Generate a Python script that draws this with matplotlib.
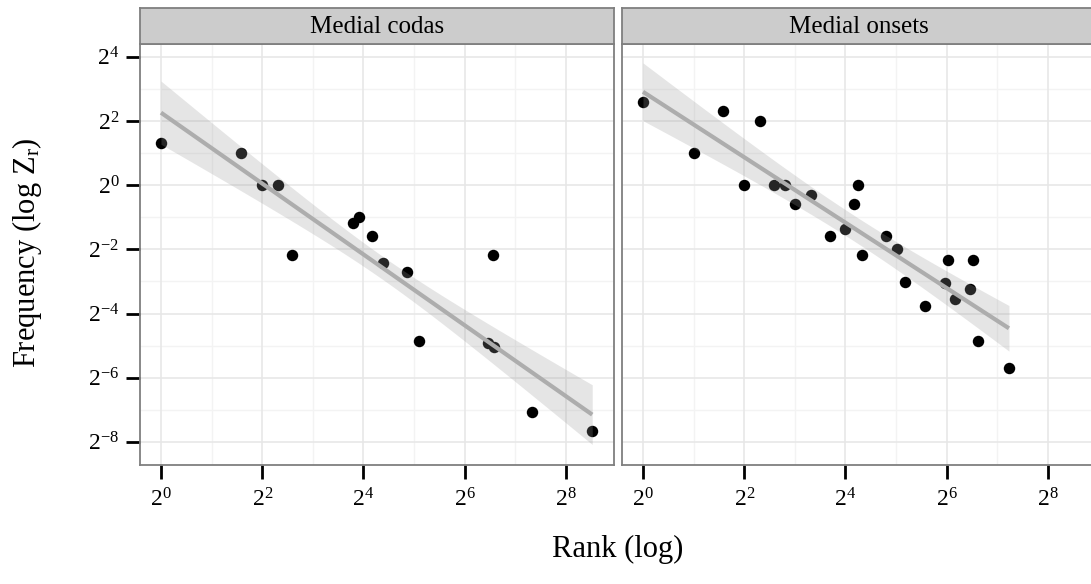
import numpy as np
import matplotlib
matplotlib.use('Agg')
import matplotlib.pyplot as plt

# ---- data (log2 of rank, log2 of frequency) ----
panel_titles = ['Medial codas', 'Medial onsets']

codas_rank_log2 = [0.0, 1.585, 2.0, 2.32, 2.585, 3.80, 3.92, 4.17, 4.39, 4.86,
                   5.09, 6.56, 6.46, 6.57, 7.33, 8.52]
codas_freq_log2 = [1.32, 1.0, 0.0, 0.0, -2.17, -1.17, -1.0, -1.59, -2.44, -2.70,
                   -4.86, -2.17, -4.92, -5.04, -7.06, -7.66]

onsets_rank_log2 = [0.0, 1.0, 1.585, 2.0, 2.32, 2.585, 2.81, 3.0, 3.32, 3.70,
                    3.99, 4.17, 4.25, 4.32, 4.81, 5.01, 5.17, 5.58, 6.02, 5.97,
                    6.17, 6.52, 6.46, 6.62, 7.23]
onsets_freq_log2 = [2.58, 1.0, 2.32, 0.0, 2.0, 0.0, 0.0, -0.58, -0.31, -1.59,
                    -1.35, -0.58, 0.0, -2.18, -1.59, -2.0, -3.01, -3.76, -2.33, -3.06,
                    -3.55, -2.33, -3.24, -4.86, -5.70]

# linear-fit summary: fitted value at the ends of the
# rank range, and the half-width of the 95% band (start, narrowest, end)
codas_fit_y = [2.26, -7.15]
codas_band_hw = [0.985, 0.36, 0.93]
onsets_fit_y = [2.91, -4.46]
onsets_band_hw = [0.90, 0.40, 0.71]

x_ticks = [0, 2, 4, 6, 8]
y_ticks = [-8, -6, -4, -2, 0, 2, 4]
x_minor = [1, 3, 5, 7]
y_minor = [-7, -5, -3, -1, 1, 3]

plt.rcParams['font.family'] = ['Liberation Serif', 'DejaVu Serif']
plt.rcParams['mathtext.fontset'] = 'custom'
plt.rcParams['mathtext.rm'] = 'Liberation Serif'
plt.rcParams['mathtext.it'] = 'Liberation Serif:italic'
plt.rcParams['mathtext.bf'] = 'Liberation Serif:bold'


def smooth_band(xs, fit_y, band_hw, n_grid=100):
    xs = np.asarray(xs)
    x0, x1 = xs.min(), xs.max()
    xc = xs.mean()
    xg = np.linspace(x0, x1, n_grid)
    yg = np.interp(xg, [x0, x1], fit_y)
    h0, hmin, h1 = band_hw
    k0 = (h0**2 - hmin**2) / (x0 - xc)**2
    k1 = (h1**2 - hmin**2) / (x1 - xc)**2
    k = np.where(xg < xc, k0, k1)
    hw = np.sqrt(hmin**2 + k*(xg - xc)**2)
    return xg, yg, yg - hw, yg + hw


W, H = 1091, 584
fig = plt.figure(figsize=(W/100, H/100), dpi=100)

ax_left_px = [140, 622]
ax_w_px = 474
ax_top_px, ax_bot_px = 44, 465
strip_top_px = 8

data = [(codas_rank_log2, codas_freq_log2, codas_fit_y, codas_band_hw),
        (onsets_rank_log2, onsets_freq_log2, onsets_fit_y, onsets_band_hw)]
border = '#7F7F7F'

for i, (xs, ys, fy, bhw) in enumerate(data):
    left = ax_left_px[i]/W
    bottom = 1 - ax_bot_px/H
    ax = fig.add_axes([left, bottom, ax_w_px/W, (ax_bot_px - ax_top_px)/H])
    ax.set_xlim(-0.415, 8.95)
    ax.set_ylim(-8.72, 4.40)
    for v in x_minor:
        ax.axvline(v, color='#F3F3F3', lw=1.0, zorder=0)
    for v in y_minor:
        ax.axhline(v, color='#F3F3F3', lw=1.0, zorder=0)
    for v in x_ticks:
        ax.axvline(v, color='#E6E6E6', lw=1.1, zorder=0)
    for v in y_ticks:
        ax.axhline(v, color='#E6E6E6', lw=1.1, zorder=0)

    ax.scatter(xs, ys, s=68, color='black', zorder=1, linewidths=0)
    xg, yg, lo, hi = smooth_band(xs, fy, bhw)
    ax.fill_between(xg, lo, hi, color='#999999', alpha=0.25, lw=0, zorder=2)
    ax.plot(xg, yg, color='#ADADAD', lw=3.0, zorder=3, solid_capstyle='butt')

    ax.set_xticks(x_ticks)
    ax.set_xticklabels([r'$2^{%d}$' % v for v in x_ticks])
    ax.set_yticks(y_ticks)
    if i == 0:
        ax.set_yticklabels([r'$2^{%d}$' % v for v in y_ticks])
        ax.tick_params(axis='y', length=10, width=2, color='black', pad=5,
                       labelsize=17)
    else:
        ax.tick_params(axis='y', length=0, labelleft=False)
    ax.tick_params(axis='x', length=10, width=2, color='black', pad=7,
                   labelsize=17)
    for sp in ax.spines.values():
        sp.set_color(border)
        sp.set_linewidth(1.3)

    # facet strip
    sax = fig.add_axes([left, 1 - ax_top_px/H, ax_w_px/W, (ax_top_px - strip_top_px)/H])
    sax.set_facecolor('#CCCCCC')
    sax.set_xticks([]); sax.set_yticks([])
    for sp in sax.spines.values():
        sp.set_color(border)
        sp.set_linewidth(1.3)
    sax.text(0.5, 0.47, panel_titles[i], ha='center', va='center',
             fontsize=18, transform=sax.transAxes)

fig.text(618/W, 1 - 549/H, 'Rank (log)', ha='center', va='center', fontsize=22)
fig.text(27/W, 1 - 253/H, r'Frequency (log Z$_{\mathrm{r}}$)', ha='center', va='center',
         rotation=90, fontsize=22)

fig.savefig('out.png', dpi=100)
